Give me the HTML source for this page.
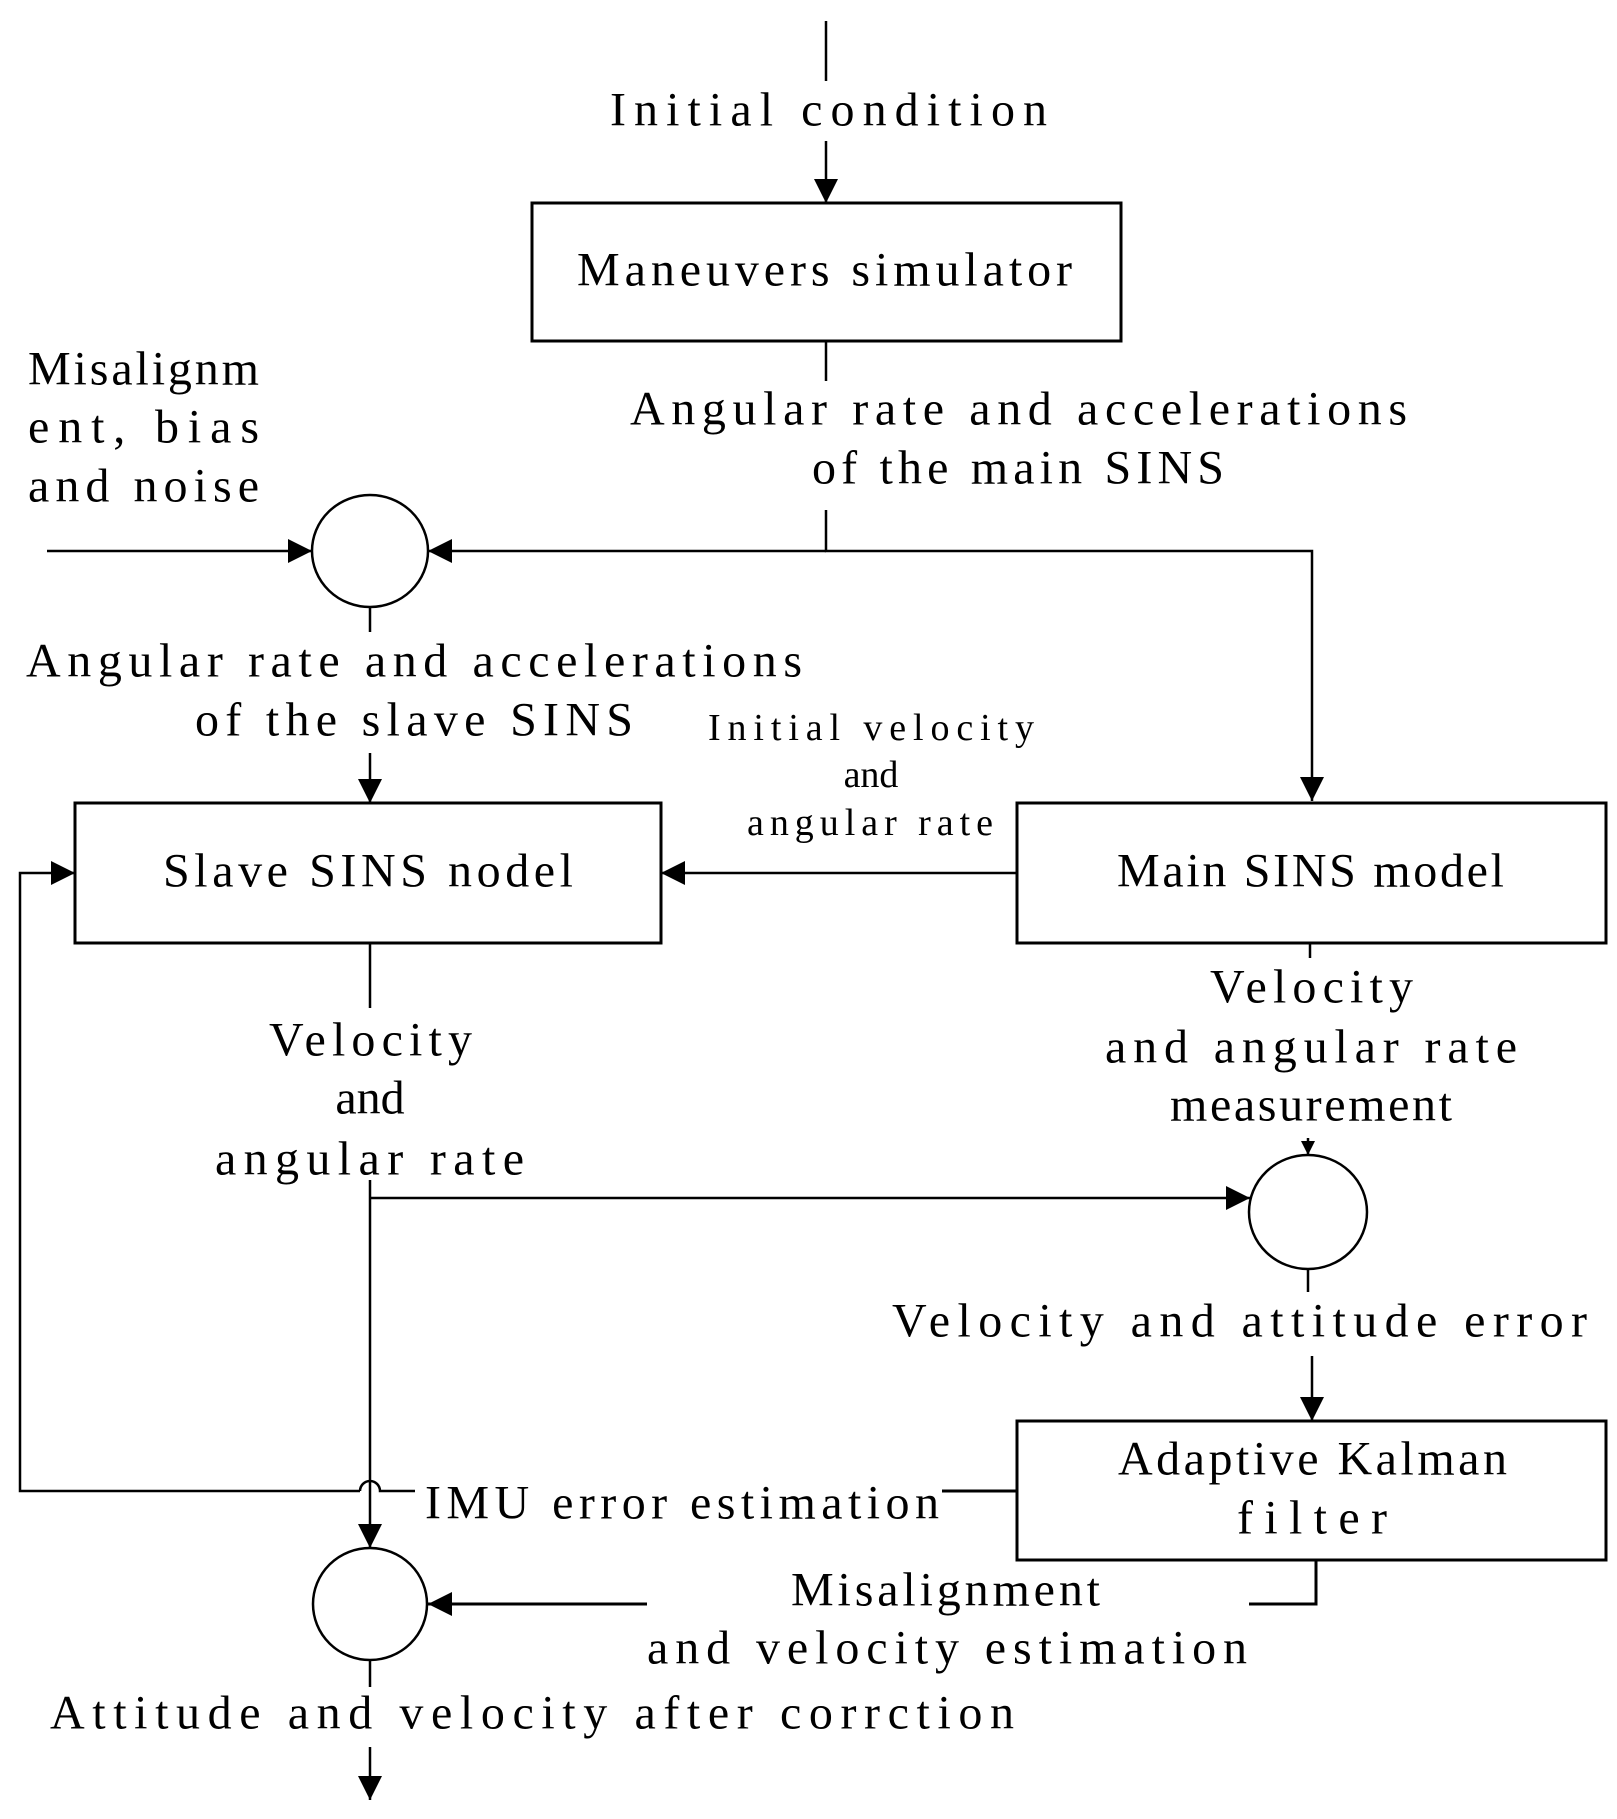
<!DOCTYPE html>
<html><head><meta charset="utf-8"><style>
html,body{margin:0;padding:0;background:#fff;}
svg{display:block;}
text{font-family:"Liberation Serif",serif;font-size:48px;fill:#000;dominant-baseline:central;}
.s{font-size:38px;}
</style></head><body>
<svg width="1617" height="1819" viewBox="0 0 1617 1819" xmlns="http://www.w3.org/2000/svg">
<defs>
<marker id="a" viewBox="0 0 10 10" refX="10" refY="5" markerWidth="28" markerHeight="24" markerUnits="userSpaceOnUse" orient="auto">
<path d="M0,0 L10,5 L0,10 z" fill="#000"/></marker>
<marker id="b" viewBox="0 0 10 10" refX="10" refY="5" markerWidth="16" markerHeight="14" markerUnits="userSpaceOnUse" orient="auto">
<path d="M0,0 L10,5 L0,10 z" fill="#000"/></marker>
</defs>
<g stroke="#000" fill="none" stroke-width="2.5">
<line x1="826" y1="21" x2="826" y2="81"/>
<line x1="826" y1="141" x2="826" y2="203" marker-end="url(#a)"/>
<rect x="532" y="203" width="589" height="138" stroke-width="3"/>
<line x1="826" y1="341" x2="826" y2="381"/>
<polyline points="826,510 826,551 1312,551 1312,801" marker-end="url(#a)"/>
<line x1="826" y1="551" x2="428" y2="551" marker-end="url(#a)"/>
<line x1="47" y1="551" x2="312" y2="551" marker-end="url(#a)"/>
<ellipse cx="370" cy="551" rx="58" ry="56"/>
<line x1="370" y1="607" x2="370" y2="632"/>
<line x1="370" y1="753" x2="370" y2="803" marker-end="url(#a)"/>
<rect x="75" y="803" width="586" height="140" stroke-width="3"/>
<rect x="1017" y="803" width="589" height="140" stroke-width="3"/>
<line x1="1017" y1="873" x2="661" y2="873" marker-end="url(#a)"/>
<polyline points="360,1491 20,1491 20,873 75,873" marker-end="url(#a)"/>
<path d="M360,1491 A10,10 0 0 1 380,1491 L415,1491"/>
<line x1="942" y1="1491" x2="1017" y2="1491" stroke-width="3"/>
<line x1="370" y1="943" x2="370" y2="1008"/>
<line x1="370" y1="1180" x2="370" y2="1548" marker-end="url(#a)"/>
<line x1="370" y1="1198" x2="1250" y2="1198" marker-end="url(#a)"/>
<line x1="1310" y1="943" x2="1310" y2="958"/>
<line x1="1308" y1="1138" x2="1308" y2="1155" marker-end="url(#b)"/>
<ellipse cx="1308" cy="1212" rx="59" ry="57"/>
<line x1="1308" y1="1269" x2="1308" y2="1292"/>
<line x1="1312" y1="1356" x2="1312" y2="1421" marker-end="url(#a)"/>
<rect x="1017" y="1421" width="589" height="139" stroke-width="3"/>
<polyline points="1316,1560 1316,1604 1249,1604" stroke-width="3"/>
<line x1="647" y1="1604" x2="428" y2="1604" stroke-width="3" marker-end="url(#a)"/>
<ellipse cx="370" cy="1604" rx="57" ry="56"/>
<line x1="370" y1="1660" x2="370" y2="1687"/>
<line x1="370" y1="1747" x2="370" y2="1800" marker-end="url(#a)"/>
</g>
<g>
<text x="610" y="110" textLength="437" lengthAdjust="spacing">Initial condition</text>
<text x="577" y="270" textLength="495" lengthAdjust="spacing">Maneuvers simulator</text>
<text x="630" y="409" textLength="777" lengthAdjust="spacing">Angular rate and accelerations</text>
<text x="812" y="468" textLength="412" lengthAdjust="spacing">of the main SINS</text>
<text x="28" y="369" textLength="231" lengthAdjust="spacing">Misalignm</text>
<text x="28" y="427" textLength="231" lengthAdjust="spacing">ent, bias</text>
<text x="28" y="486" textLength="231" lengthAdjust="spacing">and noise</text>
<text x="26" y="661" textLength="776" lengthAdjust="spacing">Angular rate and accelerations</text>
<text x="195" y="720" textLength="438" lengthAdjust="spacing">of the slave SINS</text>
<text class="s" x="708" y="728" textLength="326" lengthAdjust="spacing">Initial velocity</text>
<text class="s" x="871" y="775" text-anchor="middle">and</text>
<text class="s" x="747" y="823" textLength="246" lengthAdjust="spacing">angular rate</text>
<text x="163" y="871" textLength="410" lengthAdjust="spacing">Slave SINS nodel</text>
<text x="1117" y="871" textLength="387" lengthAdjust="spacing">Main SINS model</text>
<text x="269" y="1040" textLength="203" lengthAdjust="spacing">Velocity</text>
<text x="370" y="1098" text-anchor="middle">and</text>
<text x="215" y="1159" textLength="309" lengthAdjust="spacing">angular rate</text>
<text x="1210" y="987" textLength="203" lengthAdjust="spacing">Velocity</text>
<text x="1105" y="1047" textLength="412" lengthAdjust="spacing">and angular rate</text>
<text x="1170" y="1105" textLength="282" lengthAdjust="spacing">measurement</text>
<text x="892" y="1321" textLength="695" lengthAdjust="spacing">Velocity and attitude error</text>
<text x="1118" y="1459" textLength="389" lengthAdjust="spacing">Adaptive Kalman</text>
<text x="1237" y="1518" textLength="150" lengthAdjust="spacing">filter</text>
<text x="425" y="1503" textLength="514" lengthAdjust="spacing">IMU error estimation</text>
<text x="791" y="1590" textLength="309" lengthAdjust="spacing">Misalignment</text>
<text x="647" y="1648" textLength="600" lengthAdjust="spacing">and velocity estimation</text>
<text x="50" y="1713" textLength="964" lengthAdjust="spacing">Attitude and velocity after corrction</text>
</g>
</svg>
</body></html>
